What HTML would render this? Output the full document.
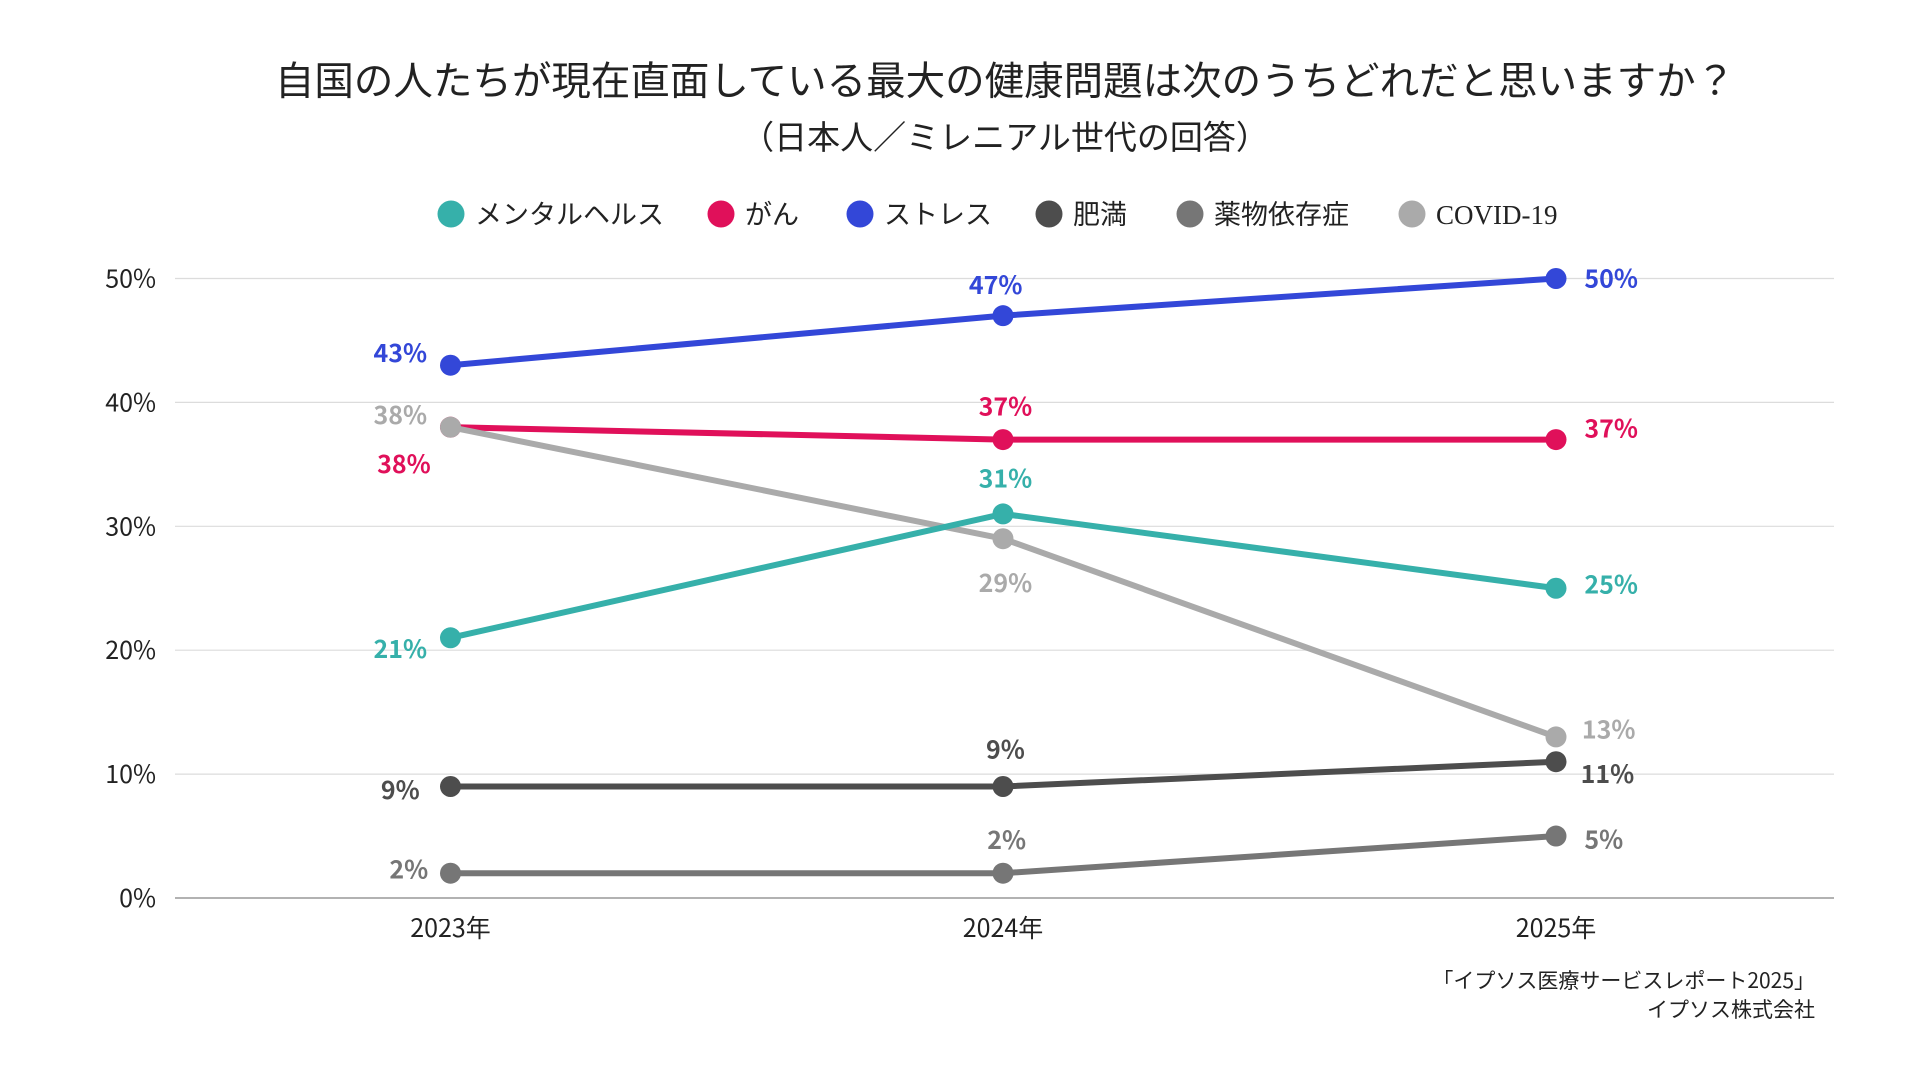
<!DOCTYPE html>
<html><head><meta charset="utf-8">
<style>
html,body{margin:0;padding:0;background:#fff;}
body{width:1920px;height:1080px;overflow:hidden;font-family:"Liberation Sans","Noto Sans CJK JP",sans-serif;}
svg text{font-family:"Noto Sans CJK JP","Liberation Sans",sans-serif;}
</style></head>
<body>
<svg id="chart" width="1920" height="1080" viewBox="0 0 1920 1080" xmlns="http://www.w3.org/2000/svg">
  <text x="1005" y="95" text-anchor="middle" font-size="39.5" fill="#222">自国の人たちが現在直面している最大の健康問題は次のうちどれだと思いますか？</text>
  <text x="1005" y="149" text-anchor="middle" font-size="33" fill="#222">（日本人／ミレニアル世代の回答）</text>
  <g id="legend"></g>
  <g id="grid"></g>
  <g id="yaxis"></g>
  <g id="xaxis"></g>
  <g id="series"></g>
  <text x="1815" y="988" text-anchor="end" font-size="21" fill="#222">「イプソス医療サービスレポート2025」</text>
  <text x="1815" y="1017" text-anchor="end" font-size="21" fill="#222">イプソス株式会社</text>
</svg>
<script>
const categories = ['2023年','2024年','2025年'];
const seriesNames = ['メンタルヘルス','がん','ストレス','肥満','薬物依存症','COVID-19'];
const mentalValues = [21,31,25];
const cancerValues = [38,37,37];
const stressValues = [43,47,50];
const obesityValues = [9,9,11];
const drugValues = [2,2,5];
const covidValues = [38,29,13];
const yTicks = [0,10,20,30,40,50];
const yTickLabels = ['0%','10%','20%','30%','40%','50%'];

const NS='http://www.w3.org/2000/svg';
const left=175,right=1834,y0=898,y50=278.5;
const xPos=[450.5,1003,1556];
function xScale(i){return xPos[i];}
function yScale(v){return y0-(v/50)*(y0-y50);}
function mk(tag,attrs,parent){const e=document.createElementNS(NS,tag);for(const k in attrs)e.setAttribute(k,attrs[k]);parent.appendChild(e);return e;}

const colors=['#36b0aa','#e0105a','#3347d8','#4d4d4d','#767676','#aaaaaa'];
const allValues=[mentalValues,cancerValues,stressValues,obesityValues,drugValues,covidValues];
const keys=['mental-health','cancer','stress','obesity','drug-addiction','covid-19'];
const offs=[
 [[-41,9],[2,-29],[45,-3]],
 [[-38,30],[2,-27],[45,-9]],
 [[-41,-10],[-6,-25],[45,0]],
 [[-41,3],[2,-30],[42,10]],
 [[-34,-3],[3,-27],[39,3]],
 [[-41,-10],[2,36],[43,-6]]
];
const S=1.225;

const legend=document.getElementById('legend');
const legX=[451,721,860,1049,1190,1412];
seriesNames.forEach((n,i)=>{
  const g=mk('g',{},legend);
  
  
  mk('circle',{cx:legX[i],cy:214,r:13.5,fill:colors[i]},g);
  const t=mk('text',{x:legX[i]+24,y:224,'font-size':27,fill:'#222'},g);
  if(i===5) t.setAttribute('style','font-family:"Liberation Serif",serif');
  t.textContent=n;
});

const grid=document.getElementById('grid'),yaxis=document.getElementById('yaxis');
yTicks.forEach((v,i)=>{
  const l=mk('line',{x1:left,x2:right,y1:yScale(v),y2:yScale(v),stroke:v===0?'#999':'#dcdcdc','stroke-width':v===0?1.5:1.2},grid);
  
  
  const t=mk('text',{x:156,y:yScale(v)+9,'text-anchor':'end','font-size':25,fill:'#222'},yaxis);
  
  
  t.textContent=yTickLabels[i];
});
const xaxis=document.getElementById('xaxis');
categories.forEach((c,i)=>{
  const t=mk('text',{x:xScale(i),y:937,'text-anchor':'middle','font-size':25,fill:'#222'},xaxis);
  
  
  t.textContent=c;
});

const order=[4,3,1,5,0,2];
const sg=document.getElementById('series');
order.forEach(si=>{
  const vals=allValues[si];
  const g=mk('g',{},sg);
  
  
  const pts=vals.map((v,i)=>xScale(i)+','+yScale(v)).join(' ');
  const pl=mk('polyline',{points:pts,fill:'none',stroke:colors[si],'stroke-width':6,'stroke-linejoin':'round'},g);
  
  
  vals.forEach((v,i)=>{
    const c=mk('circle',{cx:xScale(i),cy:yScale(v),r:10.5,fill:colors[si]},g);
    
    
    const t=mk('text',{x:xScale(i)+offs[si][i][0]*S,y:yScale(v)+offs[si][i][1]*S+9,'text-anchor':'middle','font-size':25,'font-weight':'bold',fill:colors[si]},g);
    
    
    t.textContent=v+'%';
  });
});
</script>
</body></html>
